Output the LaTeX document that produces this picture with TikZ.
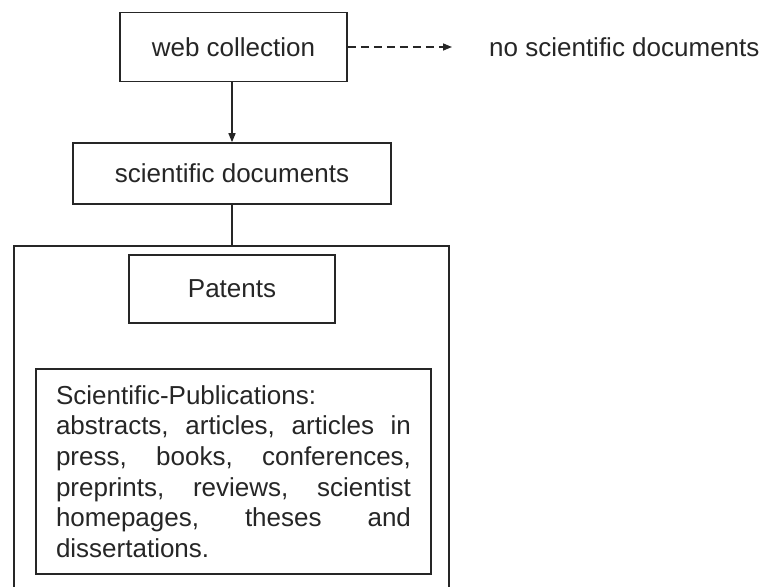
\documentclass[tikz,border=0pt]{standalone}
\usepackage{fontspec}
\setmainfont{Liberation Sans}
\usetikzlibrary{arrows.meta}
% a line set flush to both edges: words separated by \hfill
\newcommand{\fullline}[1]{\leavevmode\hbox to 355pt{#1}}
\begin{document}
\begin{tikzpicture}[x=1pt,y=-1pt,
  every node/.style={font=\fontsize{26}{30.7}\selectfont, text=black!85},
  box/.style={draw=black!85, line width=1.6pt, inner sep=0pt},
  link/.style={draw=black!85, line width=1.4pt},
  tip/.style={-{Triangle[length=9pt,width=7pt]}}]
\useasboundingbox (0,0) rectangle (770,586);
\clip (0,0) rectangle (770,586);
\fill[white] (0,0) rectangle (770,586);

% top of the flow
\node[box, minimum width=227pt, minimum height=69pt] (web) at (233.5,47) {web collection};
\node[box, minimum width=318pt, minimum height=61pt] (sci) at (232,173.5) {scientific documents};

% side branch
\node[anchor=west, inner sep=0pt] (nosci) at (489,47) {no scientific documents};
\coordinate (nosciTip) at (452,47);

% group holding both document kinds (runs off the lower edge)
\node[box, minimum width=435pt, minimum height=354pt] (group) at (231.5,423) {};
\node[box, minimum width=206pt, minimum height=68pt] (patents) at (232,289) {Patents};
\node[box, minimum width=395pt, minimum height=205pt, text width=355pt, align=left] (pubs) at (233.5,471.5)
  {Scientific-Publications:\\
   \fullline{abstracts,\hfill articles,\hfill articles\hfill in}\\
   \fullline{press,\hfill books,\hfill conferences,}\\
   \fullline{preprints,\hfill reviews,\hfill scientist}\\
   \fullline{homepages,\hfill theses\hfill and}\\
   dissertations.};

% connectors
\draw[link, tip] (sci.north |- web.south) -- (sci.north);
\draw[link] (sci.south) -- (sci.south |- group.north);
\draw[link, tip, dash pattern=on 8pt off 5pt] (web.east) -- (nosciTip);
\end{tikzpicture}
\end{document}
